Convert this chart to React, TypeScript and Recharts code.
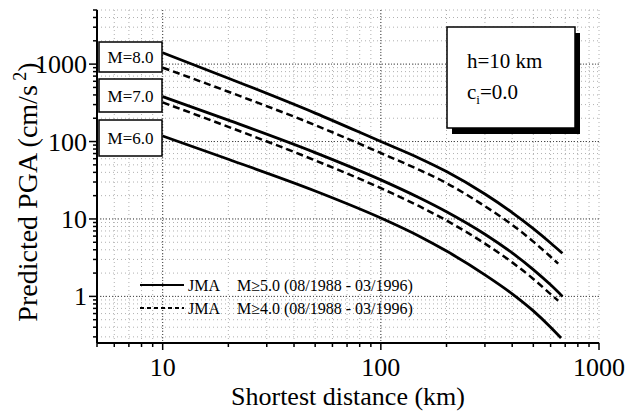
import React from 'react';
import { LineChart, Line, XAxis, YAxis, CartesianGrid } from 'recharts';

const FONT = '"Liberation Serif", "Times New Roman", Times, serif';

// distance (km) and predicted PGA (cm/s^2) for each curve
const m8SolidX = [10, 20, 50, 100, 150, 200, 300, 400, 500, 600, 680];
const m8SolidY = [1400, 658, 233, 100, 61, 41, 21, 12.1, 7.5, 4.9, 3.6];
const m8DashX = [10, 20, 50, 100, 150, 200, 300, 400, 500, 600, 650];
const m8DashY = [900, 440, 163, 71, 43, 29, 14.6, 8.4, 5.1, 3.25, 2.65];
const m7SolidX = [10, 20, 50, 100, 150, 200, 300, 400, 500, 600, 680];
const m7SolidY = [380, 189, 72, 32, 18.8, 12.4, 6.35, 3.64, 2.22, 1.41, 1.0];
const m7DashX = [10, 20, 50, 100, 150, 200, 300, 400, 500, 600, 650];
const m7DashY = [320, 155, 57, 25, 14.6, 9.55, 4.8, 2.75, 1.68, 1.07, 0.88];
const m6SolidX = [10, 20, 50, 100, 150, 200, 300, 400, 500, 600, 670];
const m6SolidY = [118, 59, 23, 10.3, 6.0, 3.85, 1.9, 1.08, 0.65, 0.4, 0.29];

const xTicks = [5, 6, 7, 8, 9, 10, 20, 30, 40, 50, 60, 70, 80, 90, 100, 200, 300, 400, 500, 600, 700, 800, 900, 1000];
const yTicks = [0.3, 0.4, 0.5, 0.6, 0.7, 0.8, 0.9, 1, 2, 3, 4, 5, 6, 7, 8, 9, 10, 20, 30, 40, 50, 60, 70, 80, 90, 100,
  200, 300, 400, 500, 600, 700, 800, 900, 1000, 2000, 3000, 4000, 5000];
const xMajor = [10, 100];
const yMajor = [1, 10, 100, 1000];
const xDomain = [5, 1000];
const yDomain = [0.25, 5000];

const magLabels = ['M=8.0', 'M=7.0', 'M=6.0'];
const legendLabels = ['M\u22655.0 (08/1988 - 03/1996)', 'M\u22654.0 (08/1988 - 03/1996)'];

const pts = (xs: number[], ys: number[]) => xs.map((x, i) => ({ x, y: ys[i] }));

const isMajor = (v: number) => Math.abs(Math.log10(v) - Math.round(Math.log10(v))) < 1e-6;

const txt = { fontFamily: FONT, fill: '#000' } as React.CSSProperties;

const BottomTick = (p: any) => {
  const { x, y, payload } = p;
  const major = isMajor(payload.value);
  return (
    <g>
      <line x1={x} x2={x} y1={y} y2={y + (major ? 7 : 4)} stroke="#000" strokeWidth={1.5} />
      {major && (
        <text x={x} y={y + 33} textAnchor="middle" fontSize={26} style={txt}>
          {payload.value}
        </text>
      )}
    </g>
  );
};
const TopTick = (p: any) => {
  const { x, y, payload } = p;
  const major = isMajor(payload.value);
  return <line x1={x} x2={x} y1={y} y2={y + (major ? 7 : 4)} stroke="#000" strokeWidth={1.5} />;
};
const LeftTick = (p: any) => {
  const { x, y, payload } = p;
  const major = isMajor(payload.value);
  return (
    <g>
      <line x1={x} x2={x - (major ? 8 : 4)} y1={y} y2={y} stroke="#000" strokeWidth={1.5} />
      {major && (
        <text x={x - 10} y={y + 9} textAnchor="end" fontSize={26} style={txt}>
          {payload.value}
        </text>
      )}
    </g>
  );
};
const RightTick = (p: any) => {
  const { x, y, payload } = p;
  const major = isMajor(payload.value);
  return <line x1={x} x2={x - (major ? 7 : 4)} y1={y} y2={y} stroke="#000" strokeWidth={1.5} />;
};

export default function App() {
  const axisLine = { stroke: '#000', strokeWidth: 2 };
  return (
    <div style={{ position: 'absolute', left: 0, top: 0, width: 627, height: 417, background: '#fff' }}>
      <LineChart width={627} height={417} margin={{ top: 10, right: 28, bottom: 44, left: 0 }}>
        <CartesianGrid stroke="#b0b0b0" strokeDasharray="1 3" strokeWidth={1} xAxisId="top" yAxisId="right" />
        <CartesianGrid stroke="#444" strokeDasharray="1 2" strokeWidth={1} xAxisId="bottom" yAxisId="left"
          verticalValues={xMajor} horizontalValues={yMajor} />
        <XAxis xAxisId="bottom" dataKey="x" type="number" scale="log" domain={xDomain} ticks={xTicks}
          interval={0} allowDataOverflow tickSize={0} tickMargin={0} tick={<BottomTick />} axisLine={axisLine}
          height={30} orientation="bottom" />
        <XAxis xAxisId="top" dataKey="x" type="number" scale="log" domain={xDomain} ticks={xTicks}
          interval={0} allowDataOverflow tickSize={0} tickMargin={0} tick={<TopTick />} axisLine={axisLine}
          height={0} orientation="top" />
        <YAxis yAxisId="left" dataKey="y" type="number" scale="log" domain={yDomain} ticks={yTicks}
          interval={0} allowDataOverflow tickSize={0} tickMargin={0} tick={<LeftTick />} axisLine={axisLine}
          width={97} orientation="left" />
        <YAxis yAxisId="right" dataKey="y" type="number" scale="log" domain={yDomain} ticks={yTicks}
          interval={0} allowDataOverflow tickSize={0} tickMargin={0} tick={<RightTick />} axisLine={axisLine}
          width={0} orientation="right" />
        <Line xAxisId="bottom" yAxisId="left" data={pts(m8SolidX, m8SolidY)} dataKey="y" type="monotone"
          stroke="#000" strokeWidth={2.8} dot={false} isAnimationActive={false} />
        <Line xAxisId="bottom" yAxisId="left" data={pts(m8DashX, m8DashY)} dataKey="y" type="monotone"
          stroke="#000" strokeWidth={2.5} strokeDasharray="7 4" dot={false} isAnimationActive={false} />
        <Line xAxisId="bottom" yAxisId="left" data={pts(m7SolidX, m7SolidY)} dataKey="y" type="monotone"
          stroke="#000" strokeWidth={2.8} dot={false} isAnimationActive={false} />
        <Line xAxisId="bottom" yAxisId="left" data={pts(m7DashX, m7DashY)} dataKey="y" type="monotone"
          stroke="#000" strokeWidth={2.5} strokeDasharray="7 4" dot={false} isAnimationActive={false} />
        <Line xAxisId="bottom" yAxisId="left" data={pts(m6SolidX, m6SolidY)} dataKey="y" type="monotone"
          stroke="#000" strokeWidth={2.8} dot={false} isAnimationActive={false} />
      </LineChart>
      <svg width={627} height={417} style={{ position: 'absolute', left: 0, top: 0, pointerEvents: 'none' }}>
        {[[42, 72], [79, 112], [120, 156]].map(([t, b], i) => (
          <g key={i}>
            <rect x={99} y={t} width={63} height={b - t} fill="#fff" stroke="#000" strokeWidth={1.5} />
            <text x={130.5} y={(t + b) / 2 + 6} textAnchor="middle" fontSize={17} style={txt}>
              {magLabels[i]}
            </text>
          </g>
        ))}
        <rect x={452} y={33} width={128} height={101} fill="#000" />
        <rect x={447} y={27} width={128} height={101} fill="#fff" stroke="#000" strokeWidth={1.5} />
        <text x={467} y={68} fontSize={21} style={txt}>h=10 km</text>
        <text x={467} y={99} fontSize={21} style={txt}>
          c<tspan fontSize={13} dy={5}>i</tspan><tspan dy={-5}>=0.0</tspan>
        </text>
        <line x1={140} x2={184} y1={285} y2={285} stroke="#000" strokeWidth={2.2} />
        <text x={188} y={291} fontSize={16} style={txt}>JMA</text>
        <text x={237} y={291} fontSize={16} style={txt}>{legendLabels[0]}</text>
        <line x1={140} x2={184} y1={308} y2={308} stroke="#000" strokeWidth={2} strokeDasharray="4 3" />
        <text x={188} y={314} fontSize={16} style={txt}>JMA</text>
        <text x={237} y={314} fontSize={16} style={txt}>{legendLabels[1]}</text>
        <text x={348} y={405} textAnchor="middle" fontSize={26} style={txt}>Shortest distance (km)</text>
        <text transform="translate(37,192) rotate(-90)" textAnchor="middle" fontSize={28} style={txt}>
          Predicted PGA (cm/s<tspan fontSize={18} dy={-11}> 2</tspan><tspan dy={11}>)</tspan>
        </text>
      </svg>
    </div>
  );
}
